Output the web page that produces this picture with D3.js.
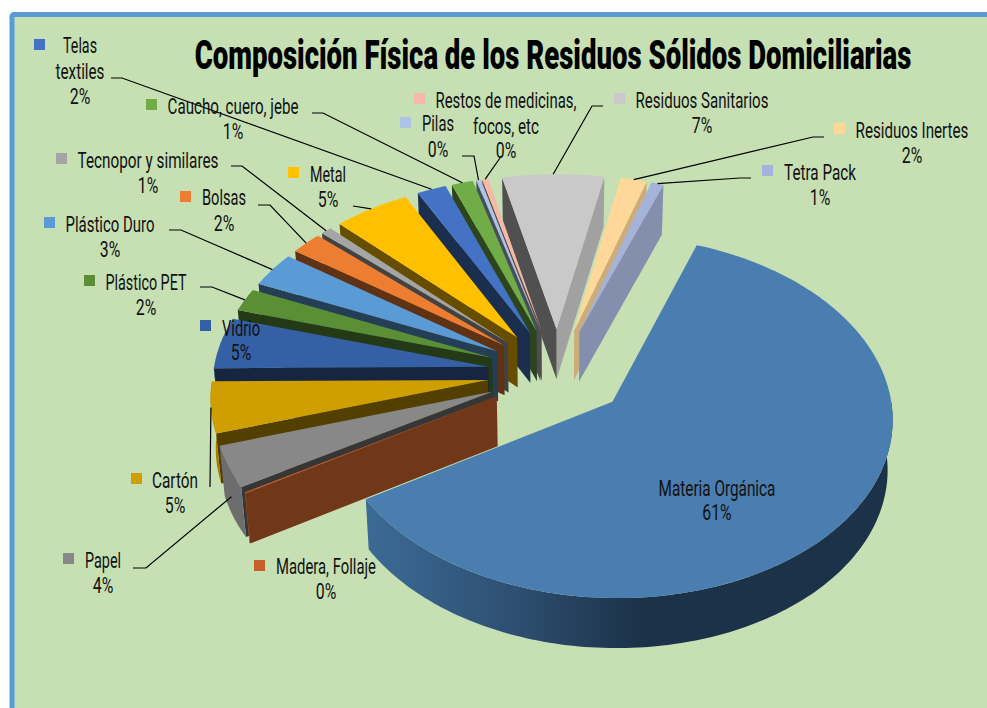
<!DOCTYPE html>
<html>
<head>
<meta charset="utf-8">
<script src="https://cdn.jsdelivr.net/npm/d3@7"></script>
<style>
  html, body { margin: 0; padding: 0; background: #fff; overflow: hidden; }
  svg { display: block; }
</style>
</head>
<body>
<div id="chart"></div>
<script>
// Chart data
var categories = ["Materia Orgánica", "Madera, Follaje", "Papel", "Cartón", "Vidrio", "Plástico PET",
  "Plástico Duro", "Bolsas", "Tecnopor y similares", "Metal", "Telas textiles", "Caucho, cuero, jebe",
  "Pilas", "Restos de medicinas, focos, etc", "Residuos Sanitarios", "Residuos Inertes", "Tetra Pack"];
var values = [61, 0.1, 3.8, 4.7, 4.7, 2.1, 3.2, 2.05, 0.7, 4.95, 1.9, 1.4, 0.3, 0.4, 6.6, 1.7, 0.8];
var colors = ["#4a7eb0", "#c5602b", "#888888", "#cf9e00", "#3660a5", "#5b8f35", "#5b9bd5", "#ed7d31",
  "#a5a5a5", "#ffc000", "#4472c4", "#70ad47", "#adc4e6", "#f4b9a7", "#c9c9c9", "#ffd899", "#a5b3da"];

// Label text, one entry per line, same order as categories
var labelLines = [["Materia Orgánica"], ["Madera, Follaje"], ["Papel"], ["Cartón"], ["Vidrio"], ["Plástico PET"],
  ["Plástico Duro"], ["Bolsas"], ["Tecnopor y similares"], ["Metal"], ["Telas", "textiles"], ["Caucho, cuero, jebe"],
  ["Pilas"], ["Restos de medicinas,", "focos, etc"], ["Residuos Sanitarios"], ["Residuos Inertes"], ["Tetra Pack"]];

// Where the labels sit: sw = swatch corner, lines = [center x, width, center y]
var labelLayout = [
  { lines: [[717, 117, 488]], pct: [717, 512] },
  { sw: [254, 560], lines: [[326, 100, 566]], pct: [326, 591] },
  { sw: [63, 553], lines: [[103, 36, 560]], pct: [103, 585] },
  { sw: [131, 473], lines: [[175, 46, 480]], pct: [175, 505] },
  { sw: [200, 320], lines: [[241, 38, 328]], pct: [241, 352] },
  { sw: [84, 275], lines: [[146, 81, 282]], pct: [146, 307] },
  { sw: [44, 217], lines: [[110, 89, 224]], pct: [110, 249] },
  { sw: [180, 191], lines: [[224, 44, 197]], pct: [224, 223] },
  { sw: [56, 153], lines: [[148, 141, 160]], pct: [148, 185] },
  { sw: [288, 167], lines: [[328, 36, 174]], pct: [328, 199] },
  { sw: [34, 39], lines: [[80, 34, 45], [80, 49, 71]], pct: [80, 96] },
  { sw: [146, 99], lines: [[233, 131, 106]], pct: [233, 131] },
  { sw: [400, 117], lines: [[438, 32, 123]], pct: [438, 149] },
  { sw: [414, 93], lines: [[506, 141, 100], [506, 66, 126]], pct: [506, 150] },
  { sw: [614, 93], lines: [[702, 133, 100]], pct: [702, 125] },
  { sw: [834, 123], lines: [[912, 113, 130]], pct: [912, 155] },
  { sw: [762, 165], lines: [[820, 72, 172]], pct: [820, 197] }
];

// Leader lines: the points from the label to the elbow, and how far down the side it lands (0 = top face)
var leaders = [
  null,
  null,
  { pts: [[133, 568], [146, 568]], drop: 0.6 },
  { pts: [[210, 487]], drop: 0 },
  null,
  { pts: [[200, 287], [212, 287]], drop: 0 },
  { pts: [[169, 230], [181, 230]], drop: 0 },
  { pts: [[258, 205], [270, 205]], drop: 0 },
  { pts: [[231, 166], [242, 166]], drop: 0 },
  { pts: [[353, 206]], drop: 0 },
  { pts: [[111, 78], [122, 78]], drop: 0 },
  { pts: [[312, 113], [323, 113]], drop: 0 },
  { pts: [[462, 156], [474, 156]], drop: 0 },
  { pts: [[500, 158]], drop: 0 },
  { pts: [[603, 106], [592, 106]], drop: 0 },
  { pts: [[824, 137], [813, 137]], drop: 0 },
  { pts: [[751, 178], [740, 178]], drop: 0 }
];

var svgWidth = 987;
var svgHeight = 708;

// Pie geometry: perspective projection of the tilted disc
var cx = 557.5, cy = 373;   // centre of the un-exploded pie
var rx = 275, ry = 175;     // radius across and along the view
var camera = 12;            // distance of the eye, in radii
var explode = 0.255;        // how far each slice is pulled out, in radii
var depth = 50;             // thickness on screen
var startDeg = 20;

var svg = d3.select("#chart").append("svg")
  .attr("width", svgWidth)
  .attr("height", svgHeight);

// Frame
svg.append("rect").attr("width", svgWidth).attr("height", svgHeight).attr("fill", "#ffffff");
svg.append("rect")
  .attr("x", 12).attr("y", 14.5)
  .attr("width", svgWidth + 20).attr("height", svgHeight + 20)
  .attr("rx", 2)
  .attr("fill", "#c6e0b4")
  .attr("stroke", "#5b9bd5")
  .attr("stroke-width", 5);

// Gradient of the big slice's rim
var defs = svg.append("defs");
var rimGrad = defs.append("linearGradient")
  .attr("id", "rimGrad")
  .attr("gradientUnits", "userSpaceOnUse")
  .attr("x1", 364).attr("x2", 640).attr("y1", 0).attr("y2", 0);
rimGrad.append("stop").attr("offset", "0%").attr("stop-color", "#3c6b97");
rimGrad.append("stop").attr("offset", "55%").attr("stop-color", "#2d4f70");
rimGrad.append("stop").attr("offset", "100%").attr("stop-color", "#1c3249");

// d3.pie gives the angles, clockwise from the top
var pie = d3.pie()
  .sort(null)
  .startAngle(startDeg * Math.PI / 180)
  .endAngle((startDeg + 360) * Math.PI / 180);
var slices = pie(values);

var line = d3.line();

// px, py in radii on the disc, z = 0 on top, 1 on the underside
function project(px, py, z) {
  var p = 1 / (1 - py / camera);
  return [cx + rx * px * p * (1 - 0.015 * z), cy + ry * py * p + depth * z];
}

function apexOf(s) {
  var mid = (s.startAngle + s.endAngle) / 2;
  return [explode * Math.sin(mid), -explode * Math.cos(mid)];
}

function onRim(s, angle, z) {
  var a = apexOf(s);
  return project(a[0] + Math.sin(angle), a[1] - Math.cos(angle), z);
}

function arcPoints(s, from, to, z) {
  var n = Math.max(2, Math.ceil((to - from) / 0.02));
  return d3.range(n + 1).map(function(i) {
    return onRim(s, from + (to - from) * i / n, z);
  });
}

function shade(color, k) {
  var c = d3.rgb(color);
  return d3.rgb(c.r * k, c.g * k, c.b * k).formatHex();
}

function drawWall(g, s, angle, fill) {
  var a = apexOf(s);
  g.append("path")
    .attr("d", line([project(a[0], a[1], 0), onRim(s, angle, 0), onRim(s, angle, 1), project(a[0], a[1], 1)]) + "Z")
    .attr("fill", fill);
}

// Paint back to front: right group, then the left fan from the top down, big slice last
var order = [14, 15, 16, 13, 12, 11, 10, 9, 8, 7, 6, 5, 4, 3, 2, 1, 0];
order.forEach(function(i) {
  var s = slices[i];
  var g = svg.append("g").attr("class", "slice");
  var color = colors[i];
  var start = s.startAngle, end = s.endAngle;

  // A cut side shows only when it faces the viewer
  if (Math.sin(end) > 0) drawWall(g, s, end, shade(color, 0.8));
  if (Math.sin(start) < 0 && i !== 0) drawWall(g, s, start, shade(color, i === 1 ? 0.57 : 0.4));

  // Outer rim, only the front half of the disc
  var from = Math.max(start, Math.PI / 2), to = Math.min(end, Math.PI * 1.5);
  if (to > from) {
    var top = arcPoints(s, from, to, 0);
    var bottom = arcPoints(s, from, to, 1).reverse();
    g.append("path")
      .attr("d", line(top.concat(bottom)) + "Z")
      .attr("fill", i === 0 ? "url(#rimGrad)" : shade(color, 0.8));
  }

  // Top face
  var a = apexOf(s);
  g.append("path")
    .attr("d", line([project(a[0], a[1], 0)].concat(arcPoints(s, start, end, 0))) + "Z")
    .attr("fill", color);
});

// Leader lines
slices.forEach(function(s, i) {
  var l = leaders[i];
  if (!l) return;
  var mid = (s.startAngle + s.endAngle) / 2;
  svg.append("path")
    .attr("d", line(l.pts.concat([onRim(s, mid, l.drop)])))
    .attr("fill", "none")
    .attr("stroke", "#000000")
    .attr("stroke-width", 1.2);
});

// Labels, squeezed sideways to the narrow look of the original face
var labelFont = "Roboto, sans-serif";
var total = d3.sum(values);

function squeezed(x, y, txt, size, weight, w) {
  var t = svg.append("text")
    .attr("text-anchor", "middle")
    .attr("font-family", labelFont)
    .attr("font-size", size)
    .attr("font-weight", weight)
    .attr("fill", "#111111")
    .text(txt);
  var k = w ? w / t.node().getComputedTextLength() : 0.72;
  t.attr("transform", "translate(" + x + "," + y + ") scale(" + k + ",1)");
  return t;
}

labelLayout.forEach(function(d, i) {
  if (d.sw) {
    svg.append("rect")
      .attr("x", d.sw[0]).attr("y", d.sw[1])
      .attr("width", 11).attr("height", 11)
      .attr("fill", colors[i]);
  }
  d.lines.forEach(function(l, j) {
    squeezed(l[0], l[2] + 8, labelLines[i][j], 22, 400, l[1]);
  });
  var pct = Math.round(values[i] / total * 100) + "%";
  squeezed(d.pct[0], d.pct[1] + 8, pct, 22, 400);
});

// Title
squeezed(553, 69, "Composición Física de los Residuos Sólidos Domiciliarias", 40, 900, 717).attr("fill", "#000000");
</script>
</body>
</html>
